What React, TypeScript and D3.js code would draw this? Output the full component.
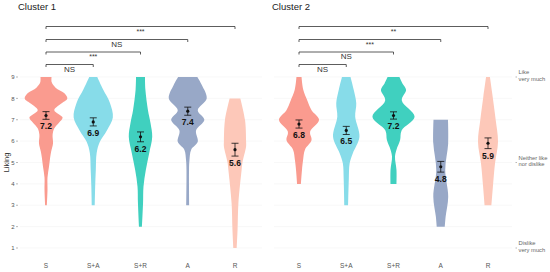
import React from "react";
import * as d3 from "d3";

// categories + colours
const categories = ["S", "S+A", "S+R", "A", "R"];
const colors = ["#FA9B8F", "#87DCE9", "#40D0BF", "#98A8C7", "#FDC8B9"];

// violin profiles: [liking, relative density]
const c1S = [[9, 0.26], [8.75, 0.27], [8.5, 0.45], [8.25, 0.85], [8.0, 1.0], [7.75, 0.7], [7.45, 0.39], [7.1, 0.78], [6.85, 0.6], [6.6, 0.39], [6.3, 0.31], [5.9, 0.33], [5.5, 0.24], [5.2, 0.19], [4.8, 0.14], [4.3, 0.07], [3.7, 0.07], [3, 0.04]];
const c1SA = [[9, 0.19], [8.4, 0.47], [7.8, 0.78], [7.1, 0.92], [6.5, 0.64], [5.97, 0.31], [5.45, 0.16], [4.65, 0.12], [3.87, 0.09], [3, 0.07]];
const c1SR = [[9, 0.21], [8.4, 0.23], [7.45, 0.35], [6.85, 0.47], [6.2, 0.55], [5.45, 0.41], [4.65, 0.25], [3.87, 0.14], [3.1, 0.12], [2, 0.07]];
const c1A = [[9, 0.45], [8.63, 0.66], [8.0, 0.89], [7.45, 0.47], [7.0, 0.78], [6.5, 0.39], [5.97, 0.47], [5.6, 0.16], [5.1, 0.08], [4.65, 0.06], [3, 0.07]];
const c1R = [[8, 0.25], [7, 0.47], [6, 0.52], [5.75, 0.52], [5, 0.35], [4.65, 0.31], [3.1, 0.16], [1.85, 0.12], [1, 0.08]];

const c2S = [[9, 0.12], [8.4, 0.2], [7.9, 0.39], [7.45, 0.59], [7.0, 0.94], [6.44, 0.52], [6.05, 0.59], [5.6, 0.28], [5.1, 0.19], [4.65, 0.14], [4, 0.09]];
const c2SA = [[9, 0.2], [8.4, 0.35], [7.77, 0.47], [7.14, 0.42], [6.2, 0.62], [5.43, 0.31], [4.96, 0.16], [4.2, 0.12], [3, 0.09]];
const c2SR = [[9, 0.28], [8.7, 0.42], [8.4, 0.59], [7.9, 0.39], [7.14, 0.99], [6.5, 0.38], [6.05, 0.31], [5.6, 0.14], [5.27, 0.07], [4.65, 0.14], [4, 0.14]];
const c2A = [[7, 0.34], [5.9, 0.35], [4.65, 0.21], [3.4, 0.35], [2.47, 0.23], [2, 0.19]];
const c2R = [[9, 0.09], [8.08, 0.22], [7, 0.36], [5.97, 0.47], [4.96, 0.33], [3.87, 0.23], [3, 0.16]];

const cluster1Means = [7.2, 6.9, 6.2, 7.4, 5.6];
const cluster1SE = [0.18, 0.19, 0.23, 0.19, 0.3];
const cluster2Means = [6.8, 6.5, 7.2, 4.8, 5.9];
const cluster2SE = [0.19, 0.19, 0.17, 0.25, 0.25];

// significance vs S, for S+A, S+R, A, R
const cluster1Sig = ["NS", "***", "NS", "***"];
const cluster2Sig = ["NS", "NS", "***", "**"];

const yTicks = [1, 2, 3, 4, 5, 6, 7, 8, 9];
const anchorLabels = [
  { v: 9, lines: ["Like", "very much"] },
  { v: 5, lines: ["Neither like", "nor dislike"] },
  { v: 1, lines: ["Dislike", "very much"] },
];

const clusters = [
  { title: "Cluster 1", dens: [c1S, c1SA, c1SR, c1A, c1R], means: cluster1Means, se: cluster1SE, sig: cluster1Sig, range: [46, 235], grid: [20, 262], tx: 18 },
  { title: "Cluster 2", dens: [c2S, c2SA, c2SR, c2A, c2R], means: cluster2Means, se: cluster2SE, sig: cluster2Sig, range: [299, 488], grid: [274, 512], tx: 272 },
];

const font = "Liberation Sans, Arial, sans-serif";

export default function App() {
  const width = 550;
  const height = 272;

  const y = d3.scaleLinear().domain([1, 9]).range([248, 77]);
  const w = d3.scaleLinear().domain([0, 1]).range([0, 21.3]);
  const bracketY = [64.5, 52, 39.5, 26.5];

  return (
    <svg width={width} height={height} style={{ position: "absolute", left: 0, top: 0, background: "#fff" }} fontFamily={font}>
      {clusters.map((cl, ci) => {
        const x = d3.scalePoint().domain(categories).range(cl.range);
        return (
          <g key={ci}>
            {/* grid */}
            {yTicks.map(t => (
              <line key={t} x1={cl.grid[0]} x2={cl.grid[1]} y1={y(t)} y2={y(t)} stroke="#f4f4f4" strokeWidth={0.6} />
            ))}
            <text x={cl.tx} y={10} fontSize={9.5} fill="#1a1a1a">{cl.title}</text>

            {/* violins */}
            {cl.dens.map((d, i) => {
              const cx = x(categories[i]) as number;
              const area = d3
                .area<number[]>()
                .x0(p => cx - w(p[1]))
                .x1(p => cx + w(p[1]))
                .y(p => y(p[0]))
                .curve(d3.curveCatmullRom);
              return <path key={i} d={area(d) || ""} fill={colors[i]} />;
            })}

            {/* mean + se */}
            {cl.means.map((m, i) => {
              const cx = x(categories[i]) as number;
              const top = y(m + cl.se[i]);
              const bot = y(m - cl.se[i]);
              return (
                <g key={i} stroke="#111" strokeWidth={0.8}>
                  <line x1={cx} x2={cx} y1={top} y2={bot} />
                  <line x1={cx - 3.5} x2={cx + 3.5} y1={top} y2={top} />
                  <line x1={cx - 3.5} x2={cx + 3.5} y1={bot} y2={bot} />
                  <circle cx={cx} cy={y(m)} r={1.6} fill="#111" stroke="none" />
                  <text x={cx} y={bot + 10} textAnchor="middle" fontSize={8.5} fontWeight="bold" fill="#111" stroke="none">
                    {m.toFixed(1)}
                  </text>
                </g>
              );
            })}

            {/* significance brackets */}
            {cl.sig.map((s, i) => {
              const x1 = x(categories[0]) as number;
              const x2 = x(categories[i + 1]) as number;
              const by = bracketY[i];
              return (
                <g key={i}>
                  <path d={`M${x1},${by + 2.5}V${by}H${x2}V${by + 2.5}`} fill="none" stroke="#333" strokeWidth={0.8} />
                  <text x={(x1 + x2) / 2} y={by + 7} textAnchor="middle" fontSize={s === "NS" ? 8 : 7} fill="#333">{s}</text>
                </g>
              );
            })}

            {/* x labels */}
            {categories.map(c => (
              <text key={c} x={x(c) as number} y={267.5} textAnchor="middle" fontSize={6.5} fill="#555">{c}</text>
            ))}
          </g>
        );
      })}

      {/* left axis */}
      {yTicks.map(t => (
        <g key={t}>
          <text x={14.5} y={y(t) + 2.2} textAnchor="end" fontSize={6} fill="#555">{t}</text>
          <line x1={16} x2={18} y1={y(t)} y2={y(t)} stroke="#888" strokeWidth={0.6} />
        </g>
      ))}
      <text transform={`translate(9,${y(5)}) rotate(-90)`} textAnchor="middle" fontSize={7.5} fill="#333">Liking</text>

      {/* right anchor labels */}
      {anchorLabels.map(a => (
        <g key={a.v}>
          <line x1={515.5} x2={517} y1={y(a.v)} y2={y(a.v)} stroke="#888" strokeWidth={0.6} />
          <text x={518.5} y={y(a.v) - 3} fontSize={5.8} fill="#666">{a.lines[0]}</text>
          <text x={518.5} y={y(a.v) + 3.5} fontSize={5.8} fill="#666">{a.lines[1]}</text>
        </g>
      ))}
    </svg>
  );
}
